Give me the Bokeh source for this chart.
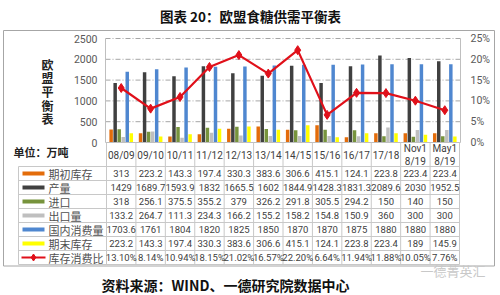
from bokeh.plotting import figure
from bokeh.models import Range1d
from bokeh.embed import file_html
from bokeh.resources import INLINE
from bokeh.core.properties import value

# ---------------- data ----------------
title_text = "图表 20：欧盟食糖供需平衡表"
source_text = "资料来源：WIND、一德研究院数据中心"
watermark_text = "一德菁英汇"
side_title = "欧\n盟\n平\n衡\n表"
unit_text = "单位：万吨"

cat_labels = ["08/09", "09/10", "10/11", "11/12", "12/13", "13/14", "14/15",
              "15/16", "16/17", "17/18", "Nov1\n8/19", "May1\n8/19"]

series_names = ["期初库存", "产量", "进口", "出口量", "国内消费量", "期末库存"]
opening = [313, 223.2, 143.3, 197.4, 330.3, 383.6, 306.6, 415.1, 124.1, 223.8, 223.4, 223.4]
production = [1429, 1689.7, 1593.9, 1832, 1665.5, 1602, 1844.9, 1428.3, 1831.3, 2089.6, 2030, 1952.5]
imports = [318, 256.1, 375.5, 355.2, 379, 326.2, 291.8, 305.5, 294.2, 150, 140, 150]
exports = [133.2, 264.7, 111.3, 234.3, 166.2, 155.2, 158.2, 154.8, 150.9, 360, 300, 300]
consumption = [1703.6, 1761, 1804, 1820, 1825, 1850, 1870, 1870, 1875, 1880, 1880, 1880]
ending = [223.2, 143.3, 197.4, 330.3, 383.6, 306.6, 415.1, 124.1, 223.8, 223.4, 189, 145.9]
ratio_name = "库存消费比"
ratio = [13.10, 8.14, 10.94, 18.15, 21.02, 16.57, 22.20, 6.64, 11.94, 11.88, 10.05, 7.76]

left_ticks = [0, 500, 1000, 1500, 2000, 2500]
right_ticks = [0, 5, 10, 15, 20, 25]

# ---------------- style / layout ----------------
colors = ["#E36C0A", "#404040", "#77933C", "#BFBFBF", "#4F87D0", "#FFFF00"]
red = "#E0101A"
W, H = 500, 295
CL, CR = 106, 459          # table / plot columns
PL, PR = 105, 460          # plot area x
PT, PB = 38, 142           # plot area y (top / bottom)
VMAX, RMAX = 2500, 25
NC = len(cat_labels)
CW = (CR - CL) / NC
HDR_B = 166                # header row bottom
RH = 14                    # row height
TL = 18                    # table left
CJK = value("Noto Sans CJK SC")
NUM = value("Roboto")

def v_at(py, vmax):
    return (PB - py) / (PB - PT) * vmax

p = figure(width=W, height=H, output_backend="svg", toolbar_location=None,
           x_range=Range1d(0, W), y_range=Range1d(H, 0),
           x_axis_type=None, y_axis_type=None, min_border=0,
           background_fill_color="white", border_fill_color="white")
p.outline_line_color = None
p.grid.visible = False
p.extra_x_ranges = {"c": Range1d((0 - CL) / CW - 0.5, (W - CL) / CW - 0.5)}
p.extra_y_ranges = {"v": Range1d(v_at(H, VMAX), v_at(0, VMAX)),
                    "r": Range1d(v_at(H, RMAX), v_at(0, RMAX))}

# title
p.text(x=[W / 2], y=[15], text=[title_text], text_align="center", text_baseline="middle",
       text_font=CJK, text_font_size="13.5px", text_font_style="bold", text_color="#111111")

# outer box
p.quad(left=[3], right=[494], top=[30], bottom=[265.5], fill_color=None,
       line_color="#A6A6A6", line_width=1)

# gridlines
grid_vals = [t for t in left_ticks if t > 0]
p.segment(x0=[PL] * len(grid_vals), x1=[PR] * len(grid_vals), y0=grid_vals, y1=grid_vals,
          y_range_name="v", line_color="#A6A6A6", line_width=1, line_dash="5 2 1 2")
# axis lines
p.segment(x0=[PL, PR], x1=[PL, PR], y0=[PT, PT], y1=[PB, PB], line_color="#BFBFBF", line_width=1)

# tick labels
p.text(x=[PL - 8] * len(left_ticks), y=left_ticks, text=[str(t) for t in left_ticks],
       y_range_name="v", text_align="right", text_baseline="middle",
       text_font=NUM, text_font_size="10.5px", text_color="#595959")
p.text(x=[PR + 10] * len(right_ticks), y=right_ticks, text=[f"{t}%" for t in right_ticks],
       y_range_name="r", text_align="left", text_baseline="middle",
       text_font=NUM, text_font_size="10.5px", text_color="#595959")

# bars
all_series = [opening, production, imports, exports, consumption, ending]
step = 0.137
bw = 0.118
for k, (vals, col) in enumerate(zip(all_series, colors)):
    xs = [i + (k - 2.5) * step for i in range(NC)]
    p.vbar(x=xs, top=vals, bottom=0, width=bw, fill_color=col, line_color=None,
           x_range_name="c", y_range_name="v")

# baseline
p.segment(x0=[PL], x1=[PR], y0=[0], y1=[0], y_range_name="v", line_color="#BFBFBF", line_width=1)

# ratio line
idx = list(range(NC))
p.line(x=idx, y=ratio, x_range_name="c", y_range_name="r", line_color=red, line_width=2.2)
p.scatter(x=idx, y=ratio, x_range_name="c", y_range_name="r", marker="diamond",
          size=9, fill_color=red, line_color=red)

# side title and unit
p.text(x=[47], y=[91], text=[side_title], text_align="center", text_baseline="middle",
       text_font=CJK, text_font_size="12px", text_font_style="bold", text_color="#222222",
       text_line_height=0.8)
p.text(x=[13], y=[151], text=[unit_text], text_align="left", text_baseline="middle",
       text_font=CJK, text_font_size="11px", text_font_style="bold", text_color="#222222")

# table grid
n_rows = len(series_names) + 1
h_lines = [HDR_B + RH * r for r in range(n_rows + 1)]
p.segment(x0=[TL] * len(h_lines), x1=[CR] * len(h_lines), y0=h_lines, y1=h_lines,
          line_color="#C8C8C8", line_width=1)
v_lines = [CL + CW * k for k in range(NC + 1)]
p.segment(x0=v_lines, x1=v_lines, y0=[PB] * len(v_lines), y1=[h_lines[-1]] * len(v_lines),
          line_color="#C8C8C8", line_width=1)
p.segment(x0=[TL], x1=[TL], y0=[HDR_B], y1=[h_lines[-1]], line_color="#C8C8C8", line_width=1)

# header labels
p.text(x=idx, y=[(PB + HDR_B) / 2 + 0.5] * NC, text=cat_labels, x_range_name="c",
       text_align="center", text_baseline="middle", text_font=NUM,
       text_font_size="10px", text_color="#404040", text_line_height=1.15)

# table rows
row_c = [HDR_B + RH * r + RH / 2 for r in range(n_rows)]
for r, (name, vals, col) in enumerate(zip(series_names, all_series, colors)):
    y = row_c[r]
    p.segment(x0=[22], x1=[44], y0=[y], y1=[y], line_color=col, line_width=4)
    p.text(x=[48], y=[y], text=[name], text_align="left", text_baseline="middle",
           text_font=CJK, text_font_size="11px", text_color="#505050")
    p.text(x=idx, y=[y] * NC, text=[f"{v:g}" for v in vals], x_range_name="c",
           text_align="center", text_baseline="middle", text_font=NUM,
           text_font_size="9.5px", text_color="#404040")
yr = row_c[-1]
p.segment(x0=[21], x1=[45], y0=[yr], y1=[yr], line_color=red, line_width=2)
p.scatter(x=[33], y=[yr], marker="diamond", size=7, fill_color=red, line_color=red)
p.text(x=[48], y=[yr], text=[ratio_name], text_align="left", text_baseline="middle",
       text_font=CJK, text_font_size="11px", text_color="#505050")
p.text(x=idx, y=[yr] * NC, text=[f"{v:.2f}%" for v in ratio], x_range_name="c",
       text_align="center", text_baseline="middle", text_font=NUM,
       text_font_size="9.5px", text_color="#404040")

# source and watermark
p.text(x=[225], y=[284], text=[source_text], text_align="center", text_baseline="middle",
       text_font=CJK, text_font_size="14px", text_font_style="bold", text_color="#111111")
p.text(x=[420], y=[270], text=[watermark_text], text_align="left", text_baseline="middle",
       text_font=CJK, text_font_size="13px", text_color="#C8C8C8")

open("out.html", "w").write(file_html(p, INLINE))
